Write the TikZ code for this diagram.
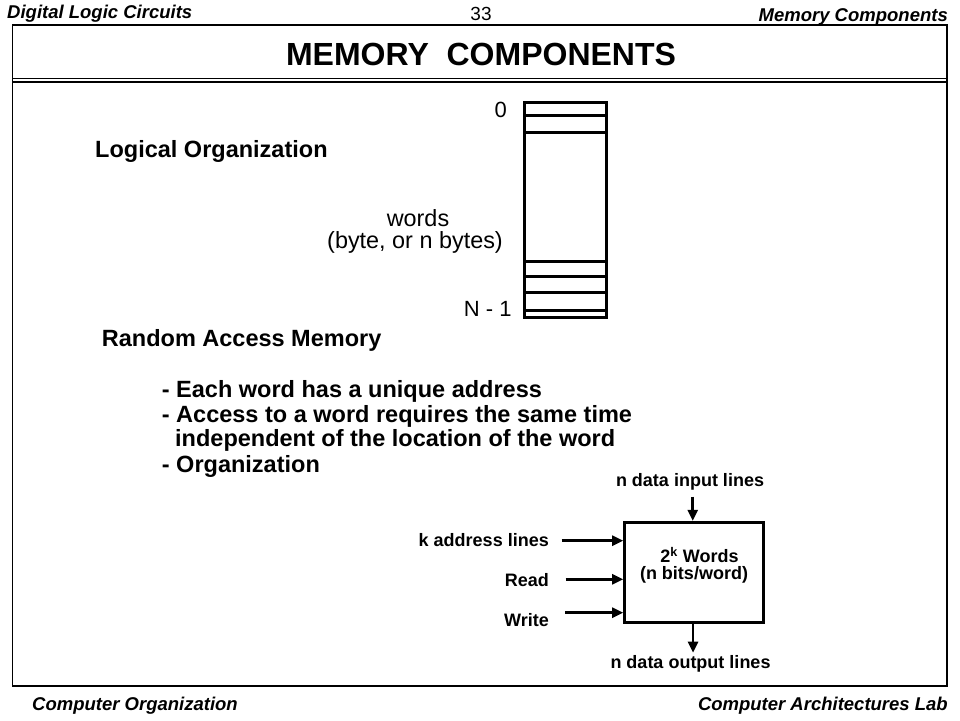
\documentclass[tikz,border=0pt]{standalone}
\usepackage{fontspec}
\setmainfont{Liberation Sans}
\usetikzlibrary{positioning,arrows.meta}
\begin{document}
\begin{tikzpicture}[x=1pt,y=-1pt,>={Triangle[length=11pt,width=10pt]}]
	\tikzstyle{head}=[font=\fontsize{18.5}{19}\selectfont\bfseries\itshape,inner sep=0]
	\tikzstyle{big}=[font=\fontsize{23.5}{25}\selectfont\bfseries,inner sep=0,anchor=base west]
	\tikzstyle{thin}=[font=\fontsize{23.4}{25}\selectfont,inner sep=0]
	\tikzstyle{small}=[font=\fontsize{18}{19}\selectfont\bfseries,inner sep=0]
	\tikzstyle{wire}=[line width=2.5pt,->]
	\useasboundingbox (0,0) rectangle (960,720);

	% header and frame
	\node[head,anchor=base west](course) at (7,18.3){Digital Logic Circuits};
	\node[font=\fontsize{19}{20}\selectfont,inner sep=0,anchor=base](page) at (481,20.5){33};
	\node[head,anchor=base east](topic) at (948,21.5){Memory Components};
	\draw[line width=1.3pt] (12.7,25) rectangle (947,686);
	\node[font=\fontsize{32}{34}\selectfont\bfseries,inner sep=0,anchor=base](title) at (481,65){MEMORY\ \ COMPONENTS};
	\draw[line width=1pt] (12.7,78) -- (947,78);
	\draw[line width=2.8pt] (12.7,82) -- (947,82);

	% logical organization
	\node[big](logic) at (95,157.3){Logical Organization};
	\node[draw,line width=3pt,minimum width=82pt,minimum height=215pt,inner sep=0](mem) at (565.8,209.7){};
	\foreach \y in {115,132.3,261.7,276,292.7,310}
		\draw[line width=3pt] (523.3,\y) -- (608.3,\y);
	\node[thin,font=\fontsize{22}{23}\selectfont,anchor=base](first) at (500.7,117){0};
	\node[thin,font=\fontsize{22}{23}\selectfont,anchor=base east](last) at (511.7,316){N - 1};
	\node[thin,anchor=base](words) at (418,226.5){words};
	\node[thin,anchor=base](bytes) at (415,248){(byte, or n bytes)};

	% random access memory
	\node[big](ram title) at (101.7,346){Random Access Memory};
	\node[big](item1) at (161.7,397.3){- Each word has a unique address};
	\node[big](item2) at (161.7,422.7){- Access to a word requires the same time};
	\node[big](item2b) at (175,446){independent of the location of the word};
	\node[big](item3) at (161.7,472.7){- Organization};

	% memory unit
	\node[draw,line width=3pt,minimum width=139pt,minimum height=100pt,inner sep=0](ram) at (694.2,572.3){};
	\node[small,anchor=base](size) at (699.5,562.7){2\textsuperscript{k} Words};
	\node[small,anchor=base](width) at (694,579.3){(n bits/word)};
	\node[small,anchor=base](in) at (690,486.7){n data input lines};
	\node[small,anchor=base](out) at (690.5,668.3){n data output lines};
	\node[small,anchor=base east](addr) at (549,546){k address lines};
	\node[small,anchor=base east](rd) at (549,586.7){Read};
	\node[small,anchor=base east](wr) at (549,626.7){Write};

	\coordinate (a0) at (561.7,540.7);
	\coordinate (r0) at (565.7,579.3);
	\coordinate (w0) at (565,612.7);
	\coordinate (i0) at (692.7,496.7);
	\coordinate (o0) at (693,652.7);
	\draw[wire] (a0) -- (a0 -| ram.west);
	\draw[wire] (r0) -- (r0 -| ram.west);
	\draw[wire] (w0) -- (w0 -| ram.west);
	\draw[wire] (i0) -- (i0 |- ram.north);
	\draw[wire] (ram.south -| o0) -- (o0);

	% footer
	\node[head,anchor=base west](book) at (32,710){Computer Organization};
	\node[head,anchor=base east](lab) at (948,710){Computer Architectures Lab};
\end{tikzpicture}
\end{document}
